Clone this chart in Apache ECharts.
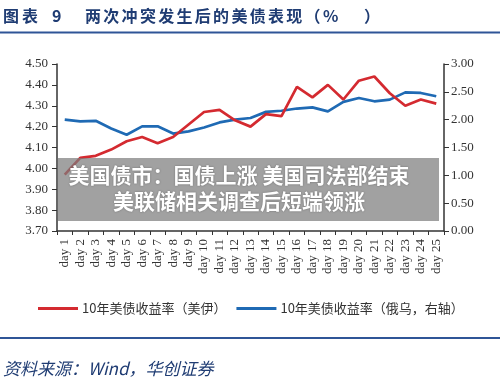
<!DOCTYPE html>
<html>
<head>
<meta charset="utf-8">
<script src="https://cdn.jsdelivr.net/npm/echarts@6/dist/echarts.min.js"></script>
<style>
html,body{margin:0;padding:0;background:#fff;}
#chart{width:500px;height:380px;}
</style>
</head>
<body>
<div id="chart"></div>
<script>
const categories = ['day 1','day 2','day 3','day 4','day 5','day 6','day 7','day 8','day 9','day 10','day 11','day 12','day 13','day 14','day 15','day 16','day 17','day 18','day 19','day 20','day 21','day 22','day 23','day 24','day 25'];
const seriesNames = ['10年美债收益率（美伊）', '10年美债收益率（俄乌，右轴）'];
const usIranYield = [3.97,4.05,4.06,4.09,4.13,4.15,4.12,4.15,4.21,4.27,4.28,4.23,4.20,4.26,4.25,4.39,4.34,4.40,4.33,4.42,4.44,4.36,4.30,4.33,4.31];
const russiaUkraineYield = [2.00,1.97,1.98,1.84,1.73,1.88,1.88,1.75,1.79,1.86,1.95,2.00,2.03,2.14,2.16,2.20,2.22,2.15,2.32,2.39,2.33,2.36,2.49,2.48,2.42];
const titleLabel = '图表 9';
const titleText = '两次冲突发生后的美债表现（%）';
const sourceText = '资料来源：Wind，华创证券';
const bannerLine1 = '美国债市：国债上涨 美国司法部结束';
const bannerLine2 = '美联储相关调查后短端领涨';

const chart = echarts.init(document.getElementById('chart'), null, {renderer: 'canvas'});
const serif = '"Liberation Serif", "Times New Roman", serif';
const cjk = '"Noto Sans CJK SC", sans-serif';
const axisColor = '#333';
const titleColor = '#1F3C73';

// title characters spaced like the reference typesetting
const titleGraphics = [];
Array.from(titleLabel).forEach((ch, i) => {
  if (ch === ' ') return;
  const xs = [3, 22, 0, 52];
  titleGraphics.push({type: 'text', left: xs[i], top: 8, style: {text: ch, fontFamily: cjk, fontWeight: 'bold', fontSize: 16, fill: titleColor}});
});
Array.from(titleText).forEach((ch, i) => {
  let x = 85 + i * 18.3;
  if (ch === '）') x = 364;
  titleGraphics.push({type: 'text', left: x, top: 8, style: {text: ch, fontFamily: cjk, fontWeight: 'bold', fontSize: 16, fill: titleColor}});
});

const option = {
  animation: false,
  backgroundColor: '#fff',
  grid: {left: 57, right: 56, top: 64, bottom: 149, containLabel: false},
  legend: {
    left: 33, top: 297,
    itemWidth: 40, itemHeight: 3, itemGap: 10,
    icon: 'rect',
    textStyle: {fontFamily: cjk, fontSize: 13, color: '#333', padding: [0,0,0,-1]},
    data: seriesNames
  },
  xAxis: {
    type: 'category',
    data: categories,
    boundaryGap: true,
    axisLine: {lineStyle: {color: axisColor, width: 1.5}},
    axisTick: {show: true, length: 4, alignWithLabel: false, lineStyle: {color: axisColor}},
    axisLabel: {rotate: 90, interval: 0, margin: 8, fontFamily: serif, fontSize: 13, color: '#333'},
    splitLine: {show: false}
  },
  yAxis: [
    {
      type: 'value', min: 3.7, max: 4.5, interval: 0.1, position: 'left',
      axisLine: {show: true, lineStyle: {color: axisColor, width: 1.5}},
      axisTick: {show: true, length: 5, lineStyle: {color: axisColor}},
      axisLabel: {margin: 9, fontFamily: serif, fontSize: 13, color: '#333', formatter: v => v.toFixed(2)},
      splitLine: {show: false}
    },
    {
      type: 'value', min: 0, max: 3, interval: 0.5, position: 'right',
      axisLine: {show: true, lineStyle: {color: axisColor, width: 1.5}},
      axisTick: {show: true, length: 5, lineStyle: {color: axisColor}},
      axisLabel: {margin: 7, fontFamily: serif, fontSize: 13, color: '#333', formatter: v => v.toFixed(2)},
      splitLine: {show: false}
    }
  ],
  series: [
    {
      name: seriesNames[0], type: 'line', yAxisIndex: 0, data: usIranYield,
      showSymbol: false, symbol: 'none',
      lineStyle: {color: '#D42A30', width: 2.7},
      itemStyle: {color: '#D42A30'}, z: 3
    },
    {
      name: seriesNames[1], type: 'line', yAxisIndex: 1, data: russiaUkraineYield,
      showSymbol: false, symbol: 'none',
      lineStyle: {color: '#1F6AB4', width: 2.7},
      itemStyle: {color: '#1F6AB4'}, z: 2
    }
  ],
  graphic: titleGraphics.concat([
    {type: 'rect', shape: {x: 0, y: 31.5, width: 500, height: 2}, style: {fill: '#2F5597'}},
    {type: 'rect', shape: {x: 0, y: 337, width: 500, height: 2}, style: {fill: '#2F5597'}},
    {type: 'text', left: 3, top: 360, style: {text: sourceText, fontFamily: cjk, fontStyle: 'italic', fontSize: 17, fill: titleColor}},
    {type: 'rect', z: 100, shape: {x: 58, y: 158, width: 381, height: 63}, style: {fill: 'rgba(125,125,125,0.72)'}},
    {type: 'text', z: 101, x: 239, y: 175, style: {text: bannerLine1, fontFamily: cjk, fontWeight: 'bold', fontSize: 21, fill: '#fff', align: 'center', verticalAlign: 'middle', textShadowColor: 'rgba(0,0,0,0.35)', textShadowBlur: 2}},
    {type: 'text', z: 101, x: 239, y: 201, style: {text: bannerLine2, fontFamily: cjk, fontWeight: 'bold', fontSize: 21, fill: '#fff', align: 'center', verticalAlign: 'middle', textShadowColor: 'rgba(0,0,0,0.35)', textShadowBlur: 2}}
  ])
};
chart.setOption(option);
</script>
</body>
</html>
